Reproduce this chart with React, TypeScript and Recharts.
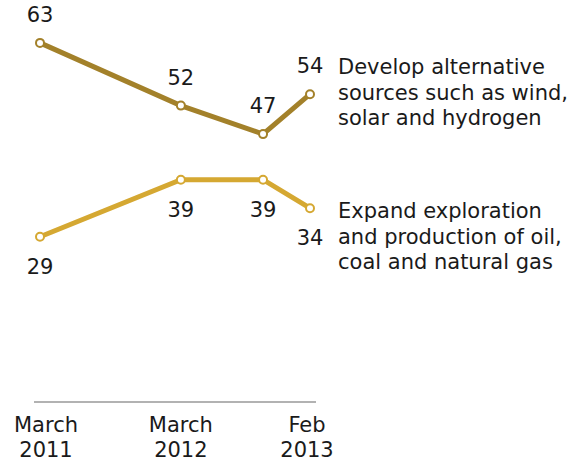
import React from "react";
import { LineChart, Line, XAxis, YAxis, LabelList } from "recharts";

// Months since March 2011
const months = [0, 12, 19, 23];
const alternativeValues = [63, 52, 47, 54];
const fossilValues = [29, 39, 39, 34];
const tickMonths = [0, 12, 23];
const tickLabels: Record<number, [string, string]> = {
  0: ["March", "2011"],
  12: ["March", "2012"],
  23: ["Feb", "2013"],
};
const alternativeLabel = ["Develop alternative", "sources such as wind,", "solar and hydrogen"];
const fossilLabel = ["Expand exploration", "and production of oil,", "coal and natural gas"];

const data = months.map((m, i) => ({
  m,
  alt: alternativeValues[i],
  fossil: fossilValues[i],
}));

const FONT = "'DejaVu Sans', Verdana, sans-serif";
const ALT_COLOR = "#A3812A";
const FOSSIL_COLOR = "#D5A832";
const FS = 21;
const TEXT = "#1a1a1a";

const Tick = (props: any) => {
  const { x, y, payload, index } = props;
  const lines = tickLabels[payload.value] || ["", ""];
  const dx = index === 0 ? 6 : index === 2 ? -3 : 0;
  return (
    <text x={x + dx} y={y} textAnchor="middle" fontFamily={FONT} fontSize={FS} fill={TEXT}>
      <tspan x={x + dx} dy={22}>{lines[0]}</tspan>
      <tspan x={x + dx} dy={25}>{lines[1]}</tspan>
    </text>
  );
};

const makeLabel = (above: boolean, desc: string[], descOffset: number) => (props: any) => {
  const { x, y, value, index } = props;
  const isLast = index === months.length - 1;
  const baseY = above ? y - 21 : y + 37;
  return (
    <g>
      <text x={x} y={baseY} textAnchor="middle" fontFamily={FONT} fontSize={FS} fill={TEXT}>
        {value}
      </text>
      {isLast && (
        <text x={x + 28} y={baseY + descOffset} textAnchor="start" fontFamily={FONT} fontSize={FS} fill={TEXT}>
          {desc.map((t, i) => (
            <tspan key={i} x={x + 28} dy={i === 0 ? 0 : 25.5}>
              {t}
            </tspan>
          ))}
        </text>
      )}
    </g>
  );
};

export default function App() {
  return (
    <div style={{ position: "absolute", left: 0, top: 0 }}>
      <LineChart width={583} height={462} data={data} margin={{ top: 3, right: 267, bottom: 0, left: 34 }}>
        <XAxis
          dataKey="m"
          type="number"
          domain={[0, 23]}
          ticks={tickMonths}
          padding={{ left: 6, right: 6 }}
          tickLine={false}
          axisLine={{ stroke: "#999", strokeWidth: 1.5 }}
          height={60}
          tick={<Tick />}
          interval={0}
        />
        <YAxis hide domain={[0, 70]} />
        <Line
          dataKey="alt"
          stroke={ALT_COLOR}
          strokeWidth={5}
          dot={{ r: 4, fill: "#fff", stroke: ALT_COLOR, strokeWidth: 2 }}
          isAnimationActive={false}
        >
          <LabelList dataKey="alt" content={makeLabel(true, alternativeLabel, 1)} />
        </Line>
        <Line
          dataKey="fossil"
          stroke={FOSSIL_COLOR}
          strokeWidth={5}
          dot={{ r: 4, fill: "#fff", stroke: FOSSIL_COLOR, strokeWidth: 2 }}
          isAnimationActive={false}
        >
          <LabelList dataKey="fossil" content={makeLabel(false, fossilLabel, -27)} />
        </Line>
      </LineChart>
    </div>
  );
}
